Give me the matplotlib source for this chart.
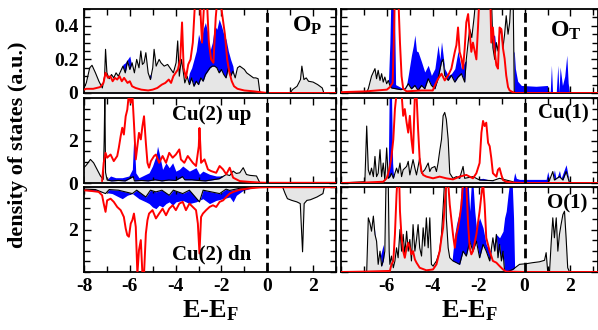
import numpy as np
import matplotlib
matplotlib.use("Agg")
import matplotlib.pyplot as plt
from matplotlib.ticker import MultipleLocator, NullFormatter

plt.rcParams['font.family'] = ['Liberation Serif', 'DejaVu Serif']
plt.rcParams['font.weight'] = 'bold'
plt.rcParams['mathtext.fontset'] = 'custom'
plt.rcParams['mathtext.rm'] = 'Liberation Serif:bold'
plt.rcParams['mathtext.it'] = 'Liberation Serif:bold'
plt.rcParams['mathtext.bf'] = 'Liberation Serif:bold'

# ---------------- data: (E - E_F, DOS) pairs ----------------
# O_P panel
op_total = [(-8.0, 0.03), (-7.9, 0.06), (-7.75, 0.15), (-7.65, 0.165), (-7.5, 0.12), (-7.35, 0.07),
            (-7.2, 0.03), (-7.1, 0.1), (-7.06, 0.26), (-7.0, 0.12), (-6.9, 0.085), (-6.8, 0.11),
            (-6.7, 0.09), (-6.6, 0.12), (-6.5, 0.1), (-6.4, 0.13), (-6.3, 0.16), (-6.2, 0.12),
            (-6.1, 0.19), (-6.0, 0.14), (-5.9, 0.18), (-5.8, 0.12), (-5.7, 0.2), (-5.6, 0.15),
            (-5.52, 0.25), (-5.45, 0.17), (-5.38, 0.18), (-5.3, 0.24), (-5.2, 0.12), (-5.1, 0.08),
            (-5.0, 0.15), (-4.94, 0.26), (-4.85, 0.16), (-4.72, 0.2), (-4.64, 0.18), (-4.5, 0.16),
            (-4.35, 0.17), (-4.2, 0.14), (-4.1, 0.12), (-3.98, 0.18), (-3.91, 0.31), (-3.84, 0.1),
            (-3.75, 0.2), (-3.69, 0.15), (-3.6, 0.06), (-3.5, 0.1), (-3.4, 0.05), (-3.3, 0.09),
            (-3.2, 0.04), (-3.1, 0.07), (-3.0, 0.05), (-2.9, 0.09), (-2.8, 0.07), (-2.7, 0.11),
            (-2.6, 0.13), (-2.5, 0.15), (-2.4, 0.16), (-2.3, 0.16), (-2.2, 0.15), (-2.1, 0.12),
            (-2.0, 0.14), (-1.9, 0.11), (-1.8, 0.09), (-1.7, 0.15), (-1.6, 0.1), (-1.5, 0.13),
            (-1.4, 0.09), (-1.3, 0.15), (-1.2, 0.16), (-1.1, 0.15), (-1.0, 0.14), (-0.9, 0.12),
            (-0.8, 0.11), (-0.7, 0.1), (-0.6, 0.09), (-0.5, 0.09), (-0.4, 0.085), (-0.32, 0.0),
            (1.0, 0.0), (1.1, 0.02), (1.3, 0.04), (1.45, 0.08), (1.51, 0.16), (1.6, 0.08),
            (1.7, 0.09), (1.8, 0.07), (2.0, 0.065), (2.2, 0.05), (2.4, 0.03), (2.47, 0.0), (3.0, 0.0)]
op_red = [(-8.0, 0.02), (-7.9, 0.025), (-7.6, 0.025), (-7.3, 0.035), (-7.15, 0.06), (-7.06, 0.12),
          (-6.95, 0.09), (-6.85, 0.1), (-6.75, 0.07), (-6.65, 0.09), (-6.55, 0.08), (-6.45, 0.1),
          (-6.35, 0.07), (-6.25, 0.09), (-6.1, 0.06), (-6.0, 0.07), (-5.9, 0.04), (-5.75, 0.03),
          (-5.5, 0.02), (-5.2, 0.015), (-5.0, 0.02), (-4.8, 0.03), (-4.6, 0.05), (-4.45, 0.06),
          (-4.3, 0.08), (-4.2, 0.06), (-4.1, 0.1), (-4.0, 0.12), (-3.9, 0.14), (-3.8, 0.2),
          (-3.72, 0.42), (-3.65, 0.15), (-3.55, 0.09), (-3.45, 0.17), (-3.35, 0.2), (-3.25, 0.3),
          (-3.15, 0.55), (-3.05, 0.6), (-2.95, 0.58), (-2.85, 0.3), (-2.75, 0.55), (-2.65, 0.6),
          (-2.55, 0.3), (-2.45, 0.2), (-2.35, 0.18), (-2.25, 0.45), (-2.15, 0.6), (-2.05, 0.55),
          (-1.95, 0.45), (-1.85, 0.35), (-1.75, 0.2), (-1.65, 0.12), (-1.55, 0.07), (-1.45, 0.04),
          (-1.3, 0.025), (-1.0, 0.015), (-0.6, 0.01), (-0.3, 0.005), (0.0, 0.0), (3.0, 0.0)]
op_blue = [(-7.0, 0.0), (-6.6, 0.08), (-6.4, 0.12), (-6.3, 0.17), (-6.2, 0.18), (-6.1, 0.2),
           (-6.0, 0.22), (-5.9, 0.15), (-5.8, 0.1), (-5.5, 0.08), (-5.2, 0.1), (-5.1, 0.11),
           (-5.0, 0.08), (-4.5, 0.05), (-3.5, 0.05), (-3.4, 0.12), (-3.3, 0.15), (-3.2, 0.2),
           (-3.1, 0.25), (-3.0, 0.35), (-2.9, 0.3), (-2.8, 0.38), (-2.7, 0.42), (-2.6, 0.36),
           (-2.5, 0.25), (-2.4, 0.3), (-2.3, 0.4), (-2.2, 0.38), (-2.1, 0.44), (-2.0, 0.4),
           (-1.9, 0.35), (-1.8, 0.32), (-1.7, 0.25), (-1.6, 0.2), (-1.5, 0.16), (-1.4, 0.05),
           (-1.3, 0.0), (3.0, 0.0)]

# O_T panel
ot_total = [(-8.0, 0.0), (-6.9, 0.0), (-6.81, 0.025), (-6.67, 0.1), (-6.52, 0.145), (-6.45, 0.085),
            (-6.38, 0.135), (-6.30, 0.075), (-6.23, 0.115), (-6.16, 0.065), (-6.09, 0.095),
            (-6.01, 0.055), (-5.94, 0.075), (-5.87, 0.045), (-5.8, 0.03), (-5.6, 0.025), (-5.4, 0.02),
            (-5.2, 0.025), (-5.07, 0.055), (-4.93, 0.025), (-4.78, 0.045), (-4.64, 0.015),
            (-4.49, 0.045), (-4.35, 0.025), (-4.2, 0.085), (-4.06, 0.045), (-3.91, 0.025),
            (-3.77, 0.085), (-3.62, 0.185), (-3.55, 0.2), (-3.48, 0.105), (-3.33, 0.075),
            (-3.19, 0.105), (-3.04, 0.065), (-2.9, 0.095), (-2.75, 0.115), (-2.61, 0.065),
            (-2.54, 0.2), (-2.46, 0.3), (-2.39, 0.38), (-2.3, 0.33), (-2.2, 0.45), (-2.1, 0.6),
            (-1.45, 0.6), (-1.38, 0.27), (-1.3, 0.2), (-1.23, 0.3), (-1.16, 0.25), (-1.09, 0.35),
            (-1.01, 0.38), (-0.94, 0.27), (-0.87, 0.35), (-0.8, 0.46), (-0.72, 0.35), (-0.65, 0.42),
            (-0.58, 0.6), (-0.5, 0.6), (-0.45, 0.01), (-0.4, 0.0), (3.2, 0.0)]
ot_red = [(-8.0, 0.005), (-6.9, 0.01), (-6.0, 0.02), (-5.87, 0.035), (-5.75, 0.06), (-5.7, 0.3),
          (-5.65, 0.6), (-5.51, 0.6), (-5.43, 0.3), (-5.36, 0.1), (-5.29, 0.025), (-5.14, 0.01),
          (-4.5, 0.015), (-4.0, 0.015), (-3.91, 0.045), (-3.77, 0.085), (-3.62, 0.115),
          (-3.48, 0.075), (-3.33, 0.105), (-3.19, 0.145), (-3.04, 0.245), (-2.97, 0.285),
          (-2.90, 0.39), (-2.83, 0.245), (-2.75, 0.205), (-2.68, 0.145), (-2.61, 0.265),
          (-2.54, 0.42), (-2.46, 0.47), (-2.39, 0.35), (-2.32, 0.245), (-2.25, 0.3), (-2.10, 0.2),
          (-2.03, 0.39), (-1.96, 0.6), (-1.5, 0.6), (-1.45, 0.3), (-1.38, 0.39), (-1.30, 0.245),
          (-1.23, 0.165), (-1.16, 0.145), (-1.09, 0.39), (-1.01, 0.38), (-0.94, 0.265),
          (-0.87, 0.205), (-0.8, 0.105), (-0.72, 0.035), (-0.65, 0.015), (-0.51, 0.005),
          (-0.4, 0.0), (3.2, 0.0)]
ot_blue = [(-8.0, 0.0), (-5.95, 0.0), (-5.87, 0.3), (-5.82, 0.6), (-5.68, 0.6), (-5.62, 0.05),
           (-5.22, 0.02), (-5.14, 0.05), (-5.07, 0.105), (-4.93, 0.225), (-4.85, 0.28),
           (-4.78, 0.345), (-4.71, 0.25), (-4.64, 0.245), (-4.49, 0.185), (-4.35, 0.125),
           (-4.2, 0.165), (-4.06, 0.105), (-3.91, 0.145), (-3.77, 0.285), (-3.69, 0.2),
           (-3.62, 0.305), (-3.48, 0.145), (-3.33, 0.105), (-3.19, 0.115), (-3.04, 0.145),
           (-2.9, 0.25), (-2.75, 0.145), (-2.61, 0.185), (-2.5, 0.2), (-2.3, 0.2), (-1.45, 0.3),
           (-1.38, 0.35), (-1.30, 0.34), (-1.2, 0.2), (-1.0, 0.15), (-0.6, 0.2), (-0.45, 0.25),
           (-0.4, 0.145), (-0.3, 0.07), (-0.14, 0.045), (0.5, 0.04), (1.0, 0.045), (1.05, 0.01),
           (1.12, 0.01), (1.17, 0.165), (1.22, 0.005), (1.38, 0.005), (1.45, 0.165), (1.5, 0.005),
           (1.55, 0.155), (1.65, 0.045), (1.75, 0.1), (1.84, 0.225), (1.9, 0.06), (1.96, 0.0),
           (3.2, 0.0)]

# Cu(2) spin up panel
cu2up_total = [(-8.0, 0.72), (-7.87, 0.88), (-7.72, 1.11), (-7.58, 0.95), (-7.43, 0.64),
               (-7.28, 0.33), (-7.16, 0.17), (-7.12, 2.0), (-7.09, 4.2), (-7.06, 0.5), (-6.99, 0.14),
               (-6.8, 0.1), (-6.5, 0.12), (-6.2, 0.1), (-5.85, 0.3), (-5.8, 0.1), (-5.5, 0.12),
               (-5.2, 0.1), (-4.9, 0.15), (-4.6, 0.1), (-4.3, 0.14), (-4.0, 0.12), (-3.7, 0.3),
               (-3.6, 0.15), (-3.3, 0.15), (-3.0, 0.12), (-2.7, 0.1), (-2.4, 0.15), (-2.1, 0.2),
               (-1.79, 0.4), (-1.64, 0.35), (-1.49, 0.56), (-1.35, 0.45), (-1.2, 0.48), (-1.05, 0.72),
               (-0.91, 0.4), (-0.76, 0.36), (-0.47, 0.33), (-0.32, 0.0), (3.0, 0.0)]
cu2up_red = [(-7.21, 0.1), (-7.14, 0.95), (-7.06, 1.42), (-6.99, 1.19), (-6.84, 1.34), (-6.70, 1.03),
             (-6.55, 1.27), (-6.48, 1.66), (-6.40, 2.2), (-6.33, 2.6), (-6.26, 2.28), (-6.18, 3.14),
             (-6.11, 3.45), (-6.04, 4.2), (-5.96, 3.77), (-5.89, 4.2), (-5.82, 2.83), (-5.74, 1.11),
             (-5.67, 1.73), (-5.60, 2.36), (-5.52, 2.05), (-5.45, 2.67), (-5.38, 3.14), (-5.30, 1.89),
             (-5.23, 0.95), (-5.16, 0.72), (-5.08, 1.03), (-4.94, 1.27), (-4.86, 1.34), (-4.72, 0.95),
             (-4.57, 1.27), (-4.42, 0.95), (-4.28, 1.42), (-4.13, 1.19), (-3.99, 1.34), (-3.84, 1.58),
             (-3.77, 1.11), (-3.62, 0.95), (-3.47, 1.27), (-3.25, 0.95), (-3.11, 0.8), (-2.99, 1.73),
             (-2.96, 2.59), (-2.92, 1.73), (-2.89, 0.95), (-2.74, 1.11), (-2.59, 0.64), (-2.45, 0.56),
             (-2.23, 0.48), (-2.08, 0.8), (-1.93, 0.64), (-1.79, 0.41), (-1.64, 0.72), (-1.49, 0.25),
             (-1.2, 0.09), (-0.76, 0.05), (-0.32, 0.02), (0.0, 0.01), (3.0, 0.01)]
cu2up_blue = [(-7.1, 0.0), (-6.99, 0.17), (-6.84, 0.33), (-6.62, 0.25), (-6.33, 0.25), (-6.04, 0.33),
              (-5.89, 0.64), (-5.82, 2.36), (-5.74, 0.48), (-5.6, 0.25), (-5.16, 0.48), (-5.01, 0.8),
              (-4.86, 1.27), (-4.79, 1.73), (-4.72, 1.42), (-4.57, 0.64), (-4.42, 0.95), (-4.28, 0.72),
              (-4.13, 0.95), (-3.99, 0.56), (-3.84, 0.64), (-3.69, 0.8), (-3.4, 0.56), (-3.11, 0.72),
              (-2.96, 0.41), (-2.81, 0.56), (-2.52, 0.41), (-2.23, 0.33), (-1.93, 0.33), (-1.64, 0.25),
              (-1.35, 0.09), (-1.05, 0.02), (-0.9, 0.0), (3.0, 0.0)]

# Cu(2) spin down panel (plotted downward)
cu2dn_total = [(-8.0, 0.1), (-7.5, 0.12), (-7.06, 0.31), (-6.9, 0.12), (-6.5, 0.15), (-5.89, 0.31),
               (-5.7, 0.15), (-5.30, 0.47), (-5.1, 0.15), (-4.86, 0.23), (-4.6, 0.15), (-4.28, 0.39),
               (-4.1, 0.15), (-3.69, 0.31), (-3.4, 0.15), (-2.96, 0.7), (-2.8, 0.15), (-2.08, 0.31),
               (-1.8, 0.1), (-1.64, 0.16), (-1.2, 0.06), (-0.5, 0.02), (0.6, 0.0), (0.67, 0.0),
               (0.78, 0.31), (0.88, 0.55), (1.07, 0.63), (1.29, 0.7), (1.44, 0.78), (1.54, 3.05),
               (1.61, 0.78), (1.73, 0.63), (1.88, 0.6), (2.17, 0.47), (2.43, 0.31), (2.49, 0.0),
               (3.0, 0.0)]
cu2dn_red = [(-7.94, 0.16), (-7.65, 0.19), (-7.36, 0.23), (-7.21, 0.39), (-7.14, 0.78), (-7.06, 1.17),
             (-6.99, 0.63), (-6.84, 0.55), (-6.70, 0.70), (-6.55, 0.94), (-6.40, 1.09), (-6.26, 1.41),
             (-6.18, 1.95), (-6.11, 2.27), (-6.04, 2.34), (-5.96, 1.72), (-5.89, 1.56), (-5.82, 1.25),
             (-5.74, 1.88), (-5.67, 4.1), (-5.60, 2.97), (-5.52, 2.5), (-5.45, 4.1), (-5.38, 4.1),
             (-5.30, 2.19), (-5.23, 1.56), (-5.16, 1.25), (-5.01, 1.09), (-4.86, 1.48), (-4.72, 1.25),
             (-4.57, 1.02), (-4.42, 1.33), (-4.28, 1.02), (-4.13, 0.86), (-3.99, 1.09), (-3.84, 0.78),
             (-3.69, 0.70), (-3.55, 1.09), (-3.40, 0.78), (-3.25, 0.94), (-3.11, 1.09), (-3.03, 1.72),
             (-2.96, 3.13), (-2.89, 1.41), (-2.81, 1.25), (-2.67, 1.09), (-2.52, 0.94), (-2.37, 0.86),
             (-2.23, 0.94), (-2.08, 0.70), (-1.93, 0.63), (-1.79, 0.47), (-1.64, 0.31), (-1.49, 0.23),
             (-1.2, 0.13), (-0.76, 0.06), (-0.32, 0.02), (0.0, 0.01), (3.0, 0.01)]
cu2dn_blue = [(-7.94, 0.16), (-7.21, 0.23), (-6.77, 0.31), (-6.48, 0.47), (-6.33, 0.55), (-6.11, 0.39),
              (-5.89, 0.31), (-5.6, 0.55), (-5.30, 0.70), (-5.16, 0.78), (-5.01, 0.94), (-4.86, 1.02),
              (-4.72, 0.86), (-4.57, 0.94), (-4.42, 0.78), (-4.28, 0.70), (-4.13, 0.86), (-3.99, 0.70),
              (-3.69, 0.63), (-3.40, 0.78), (-3.11, 0.70), (-2.81, 0.55), (-2.52, 0.78), (-2.23, 0.63),
              (-1.93, 0.55), (-1.64, 0.47), (-1.49, 0.70), (-1.35, 0.39), (-1.05, 0.16), (-0.61, 0.03),
              (-0.32, 0.0), (3.0, 0.0)]

# Cu(1) panel
cu1_total = [(-8.0, 0.0), (-6.96, 0.06), (-6.88, 2.68), (-6.81, 0.62), (-6.74, 0.38), (-6.67, 0.70),
             (-6.59, 0.30), (-6.52, 1.25), (-6.45, 0.30), (-6.38, 0.46), (-6.30, 1.57), (-6.23, 0.30),
             (-6.16, 0.94), (-6.09, 0.14), (-6.01, 1.65), (-5.94, 0.22), (-5.87, 0.30), (-5.80, 0.46),
             (-5.72, 0.22), (-5.58, 0.70), (-5.51, 0.46), (-5.43, 0.94), (-5.36, 0.30), (-5.29, 0.62),
             (-5.14, 0.78), (-5.07, 1.02), (-5.00, 0.38), (-4.86, 1.10), (-4.78, 0.70), (-4.71, 0.38),
             (-4.57, 1.17), (-4.49, 0.46), (-4.35, 0.62), (-4.20, 0.94), (-4.13, 0.54), (-4.06, 0.70),
             (-3.91, 0.78), (-3.84, 0.54), (-3.77, 0.94), (-3.70, 1.49), (-3.62, 2.05), (-3.55, 3.16),
             (-3.48, 3.32), (-3.41, 3.0), (-3.33, 2.05), (-3.26, 0.46), (-3.12, 0.22), (-2.97, 0.30),
             (-2.83, 0.22), (-2.68, 0.78), (-2.61, 0.22), (-2.25, 0.30), (-1.96, 0.14), (-1.38, 0.11),
             (-1.09, 0.22), (-0.80, 0.14), (-0.51, 0.06), (-0.43, 0.0), (1.01, 0.0), (1.09, 0.14),
             (1.23, 0.54), (1.30, 0.14), (1.52, 0.30), (1.67, 0.14), (1.81, 0.54), (1.96, 0.0),
             (3.2, 0.0)]
cu1_red = [(-8.0, 0.0), (-6.96, 0.02), (-6.16, 0.06), (-6.01, 0.22), (-5.94, 0.46), (-5.87, 0.78),
           (-5.80, 1.25), (-5.72, 2.05), (-5.65, 3.48), (-5.58, 4.2), (-5.36, 4.2), (-5.29, 3.16),
           (-5.22, 3.48), (-5.14, 2.84), (-5.07, 2.37), (-5.00, 3.16), (-4.93, 2.05), (-4.86, 1.41),
           (-4.78, 4.2), (-4.71, 4.2), (-4.64, 2.52), (-4.57, 1.10), (-4.49, 0.54), (-4.42, 0.38),
           (-4.28, 0.30), (-3.99, 0.22), (-3.70, 0.30), (-3.41, 0.22), (-3.12, 0.17), (-2.83, 0.30),
           (-2.54, 0.38), (-2.25, 0.22), (-2.10, 0.46), (-1.96, 0.94), (-1.88, 2.37), (-1.81, 2.92),
           (-1.74, 2.68), (-1.67, 2.84), (-1.59, 1.89), (-1.52, 1.73), (-1.45, 1.17), (-1.38, 0.46),
           (-1.23, 0.30), (-1.16, 0.62), (-1.09, 0.70), (-1.01, 0.38), (-0.94, 0.14), (-0.80, 0.06),
           (-0.51, 0.02), (0.0, 0.0), (3.2, 0.0)]
cu1_blue = [(-8.0, 0.0), (-6.05, 0.0), (-6.01, 0.3), (-5.94, 0.62), (-5.9, 4.2), (-5.80, 4.2),
            (-5.75, 0.94), (-5.72, 0.46), (-5.58, 0.1), (-3.0, 0.1), (-2.97, 0.30), (-2.83, 0.38),
            (-2.54, 0.14), (-1.81, 0.22), (-1.52, 0.14), (-0.80, 0.06), (-0.51, 0.03), (-0.43, 0.49),
            (-0.36, 0.22), (-0.22, 0.17), (0.07, 0.17), (0.94, 0.17), (1.01, 0.54), (1.09, 0.14),
            (1.23, 0.22), (1.30, 0.62), (1.38, 0.14), (1.52, 0.59), (1.59, 0.22), (1.81, 0.86),
            (1.96, 0.0), (3.2, 0.0)]

# O(1) panel
o1_total = [(-8.0, 0.0), (-6.88, 0.0), (-6.81, 2.55), (-6.74, 2.31), (-6.67, 1.92), (-6.59, 2.63),
            (-6.52, 1.77), (-6.45, 1.45), (-6.38, 0.36), (-6.30, 0.98), (-6.23, 0.28), (-6.16, 0.52),
            (-6.09, 0.98), (-6.04, 4.2), (-5.94, 4.2), (-5.90, 0.98), (-5.87, 0.36), (-5.80, 0.75),
            (-5.72, 0.20), (-5.65, 0.52), (-5.58, 1.14), (-5.51, 0.67), (-5.43, 2.0), (-5.36, 0.98),
            (-5.29, 1.77), (-5.22, 0.83), (-5.14, 1.92), (-5.07, 0.98), (-5.00, 1.53), (-4.93, 0.52),
            (-4.86, 2.23), (-4.78, 0.98), (-4.71, 1.53), (-4.64, 2.23), (-4.57, 1.14), (-4.49, 0.75),
            (-4.42, 2.08), (-4.35, 1.22), (-4.28, 2.55), (-4.20, 1.14), (-4.13, 2.55), (-4.06, 0.36),
            (-3.99, 0.28), (-3.84, 0.52), (-3.70, 0.98), (-3.62, 1.77), (-3.55, 3.02), (-3.49, 4.2),
            (-3.43, 4.2), (-3.41, 2.55), (-3.33, 1.14), (-3.26, 0.67), (-3.12, 0.52), (-2.97, 0.44),
            (-2.83, 0.36), (-2.68, 0.98), (-2.54, 0.75), (-2.39, 1.45), (-2.25, 0.98), (-2.10, 1.45),
            (-1.96, 0.67), (-1.81, 1.30), (-1.67, 0.98), (-1.52, 0.52), (-1.38, 1.61), (-1.30, 0.98),
            (-1.23, 1.77), (-1.16, 0.67), (-1.09, 1.30), (-1.01, 0.52), (-0.94, 0.98), (-0.87, 0.0),
            (-0.80, 0.0), (-0.51, 0.12), (-0.22, 0.36), (0.07, 0.39), (0.36, 0.44), (0.65, 0.48),
            (0.87, 0.55), (0.94, 0.91), (1.01, 0.0), (1.09, 0.05), (1.16, 1.38), (1.23, 2.55),
            (1.30, 1.61), (1.38, 2.55), (1.45, 0.98), (1.52, 1.77), (1.59, 2.23), (1.67, 2.70),
            (1.74, 2.86), (1.81, 1.61), (1.88, 0.20), (1.96, 0.0), (3.2, 0.0)]
o1_red = [(-8.0, 0.0), (-6.88, 0.02), (-5.87, 0.05), (-5.80, 0.36), (-5.72, 0.52), (-5.65, 1.77),
          (-5.58, 3.64), (-5.55, 4.2), (-5.46, 4.2), (-5.43, 2.86), (-5.36, 1.61), (-5.29, 0.98),
          (-5.22, 0.67), (-5.14, 1.14), (-5.07, 1.38), (-5.00, 1.14), (-4.93, 0.83), (-4.86, 0.98),
          (-4.78, 0.59), (-4.71, 0.44), (-4.57, 0.20), (-4.28, 0.08), (-3.99, 0.12), (-3.84, 0.36),
          (-3.70, 0.98), (-3.62, 1.61), (-3.55, 2.08), (-3.48, 3.17), (-3.41, 4.2), (-3.33, 4.2),
          (-3.26, 3.17), (-3.12, 1.77), (-3.04, 1.14), (-2.97, 1.77), (-2.90, 2.08), (-2.83, 2.55),
          (-2.75, 3.17), (-2.68, 4.2), (-2.54, 4.2), (-2.46, 2.23), (-2.39, 1.14), (-2.32, 0.83),
          (-2.25, 0.98), (-2.10, 1.77), (-1.96, 2.86), (-1.88, 3.64), (-1.81, 4.2), (-1.74, 3.17),
          (-1.67, 1.61), (-1.52, 0.98), (-1.38, 0.52), (-1.23, 0.44), (-1.09, 0.28), (-0.94, 0.12),
          (-0.80, 0.02), (0.0, 0.0), (3.2, 0.0)]
o1_blue = [(-8.0, 0.0), (-6.7, 0.0), (-6.59, 0.52), (-6.52, 2.0), (-6.45, 0.98), (-6.38, 0.36),
           (-6.23, 0.98), (-6.16, 1.30), (-6.09, 0.36), (-5.87, 0.2), (-5.58, 0.1), (-3.2, 0.1),
           (-3.12, 0.98), (-3.04, 1.77), (-2.97, 2.23), (-2.90, 2.55), (-2.83, 2.86), (-2.75, 4.2),
           (-2.46, 4.2), (-2.39, 2.86), (-2.32, 4.2), (-2.25, 4.2), (-2.17, 2.86), (-2.10, 2.08),
           (-1.96, 2.55), (-1.81, 2.08), (-1.67, 1.30), (-1.52, 0.98), (-1.38, 1.14), (-1.23, 1.77),
           (-1.09, 1.61), (-0.94, 1.92), (-0.87, 2.55), (-0.80, 2.86), (-0.72, 3.64), (-0.65, 4.2),
           (-0.54, 4.2), (-0.48, 2.55), (-0.43, 0.0), (3.2, 0.0)]

panel_labels = ["O$_{\\rm P}$", "O$_{\\rm T}$", "Cu(2) up", "Cu(1)", "Cu(2) dn", "O(1)"]
ylabel = "density of states (a.u.)"
xlabel = "E-E$_{\\rm F}$"

# ---------------- figure ----------------
W, H = 598, 330
fig = plt.figure(figsize=(W / 100, H / 100), dpi=100)

def fx(px):
    return px / W

def fy(py):
    return 1 - py / H

left_x = (84, 336)
right_x = (341, 598)
rows = [(9, 93), (98, 183), (187, 272)]

def make_ax(xr, yr):
    return fig.add_axes([fx(xr[0]), fy(yr[1]), fx(xr[1] - xr[0]), (yr[1] - yr[0]) / H])

GRAY = '#e6e6e6'

def draw(ax, total, red, blue):
    te, tv = np.array(total).T
    re_, rv = np.array(red).T
    be, bv = np.array(blue).T
    ax.fill_between(be, 0, bv, color='#0000ff', lw=0, zorder=1)
    ax.fill_between(te, 0, tv, color=GRAY, lw=0, zorder=2)
    ax.plot(te, tv, color='black', lw=0.8, zorder=3)
    ax.plot(re_, rv, color='#ff0000', lw=1.4, zorder=4)
    ax.axvline(0, color='black', lw=2.0, dashes=(3.5, 1.6), zorder=5)

def style(ax, xlim, ylim, ymaj, ymin, ylabels=None, xlabels=None):
    ax.set_xlim(*xlim)
    ax.set_ylim(*ylim)
    ax.xaxis.set_major_locator(MultipleLocator(2))
    ax.xaxis.set_minor_locator(MultipleLocator(1))
    ax.yaxis.set_minor_locator(MultipleLocator(ymin))
    ax.tick_params(which='both', direction='in', top=True, right=True, width=1.0,
                   labelsize=14, pad=4)
    ax.tick_params(which='major', length=5)
    ax.tick_params(which='minor', length=4)
    for s in ax.spines.values():
        s.set_linewidth(1.3)
    if ylabels is None:
        ax.yaxis.set_major_locator(MultipleLocator(ymaj))
        ax.yaxis.set_major_formatter(NullFormatter())
    else:
        ax.set_yticks([v for v, _ in ylabels])
        ax.set_yticklabels([t for _, t in ylabels])
    if xlabels is None:
        ax.xaxis.set_major_formatter(NullFormatter())
    else:
        ax.set_xticks([v for v, _ in xlabels])
        ax.set_xticklabels([t for _, t in xlabels])
    for t in ax.get_xticklabels() + ax.get_yticklabels():
        t.set_fontweight('bold')

# top-left O_P
ax = make_ax(left_x, rows[0])
draw(ax, op_total, op_red, op_blue)
style(ax, (-8, 3), (0, 0.5), 0.2, 0.05, ylabels=[(0, '0'), (0.2, '0.2'), (0.4, '0.4')])
ax.text(0.945, 0.93, panel_labels[0], transform=ax.transAxes, ha='right', va='top',
        fontsize=17, fontweight='bold', zorder=6)

# top-right O_T
ax = make_ax(right_x, rows[0])
draw(ax, ot_total, ot_red, ot_blue)
style(ax, (-8, 3.2), (0, 0.5), 0.2, 0.05)
ax.text(0.935, 0.87, panel_labels[1], transform=ax.transAxes, ha='right', va='top',
        fontsize=17, fontweight='bold', zorder=6)

# middle-left Cu(2) up
ax = make_ax(left_x, rows[1])
draw(ax, cu2up_total, cu2up_red, cu2up_blue)
style(ax, (-8, 3), (0, 4), 2, 0.5, ylabels=[(0, '0'), (2, '2')])
ax.text(0.505, 0.92, panel_labels[2], transform=ax.transAxes, ha='center', va='top',
        fontsize=15, fontweight='bold', zorder=6)

# middle-right Cu(1)
ax = make_ax(right_x, rows[1])
draw(ax, cu1_total, cu1_red, cu1_blue)
style(ax, (-8, 3.2), (0, 4), 2, 0.5)
ax.text(0.965, 0.93, panel_labels[3], transform=ax.transAxes, ha='right', va='top',
        fontsize=15, fontweight='bold', zorder=6)

# bottom-left Cu(2) dn (inverted)
ax = make_ax(left_x, rows[2])
draw(ax, cu2dn_total, cu2dn_red, cu2dn_blue)
style(ax, (-8, 3), (4, 0), 2, 0.5, ylabels=[(2, '2')],
      xlabels=[(-8, '-8'), (-6, '-6'), (-4, '-4'), (-2, '-2'), (0, '0'), (2, '2')])
ax.text(0.508, 0.09, panel_labels[4], transform=ax.transAxes, ha='center', va='bottom',
        fontsize=15, fontweight='bold', zorder=6)

# bottom-right O(1)
ax = make_ax(right_x, rows[2])
draw(ax, o1_total, o1_red, o1_blue)
style(ax, (-8, 3.2), (0, 4), 2, 0.5,
      xlabels=[(-6, '-6'), (-4, '-4'), (-2, '-2'), (0, '0'), (2, '2')])
ax.text(0.957, 0.92, panel_labels[5], transform=ax.transAxes, ha='right', va='top',
        fontsize=15, fontweight='bold', zorder=6)

fig.text(fx(18), fy(145), ylabel, rotation=90, ha='center', va='center',
         fontsize=16, fontweight='bold')
fig.text(fx(210), fy(317), xlabel, ha='center', va='baseline', fontsize=19, fontweight='bold')
fig.text(fx(469), fy(317), xlabel, ha='center', va='baseline', fontsize=19, fontweight='bold')

fig.savefig('out.png', dpi=100)
